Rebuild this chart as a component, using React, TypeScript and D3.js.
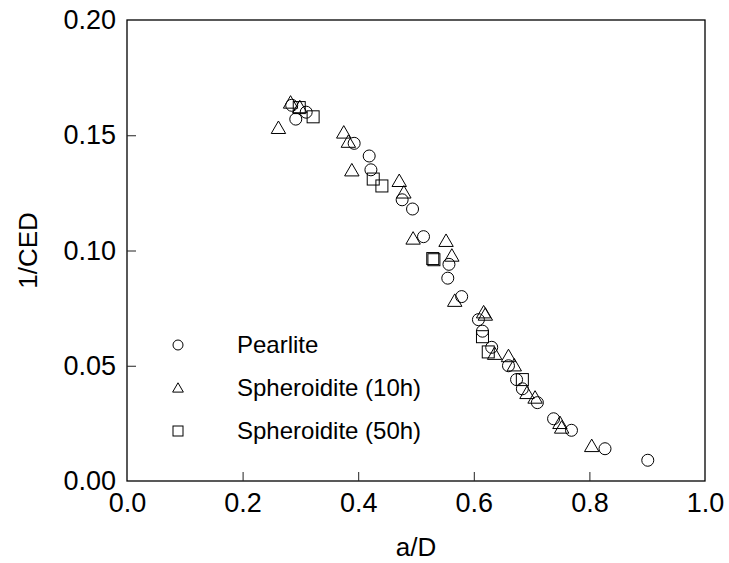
import React, { useEffect, useRef } from 'react';
import * as d3 from 'd3';

// a/D vs 1/CED
const pearlite: [number, number][] = [
  [0.285, 0.163], [0.310, 0.160], [0.292, 0.157], [0.393, 0.1465], [0.419, 0.141],
  [0.422, 0.135], [0.476, 0.122], [0.494, 0.118], [0.513, 0.106], [0.557, 0.094],
  [0.555, 0.088], [0.579, 0.080], [0.608, 0.070], [0.615, 0.065], [0.631, 0.058],
  [0.660, 0.050], [0.674, 0.044], [0.684, 0.040], [0.710, 0.034], [0.738, 0.027],
  [0.769, 0.022], [0.827, 0.014], [0.901, 0.009],
];

const spher10: [number, number][] = [
  [0.262, 0.153], [0.283, 0.164], [0.299, 0.162], [0.375, 0.151], [0.383, 0.147],
  [0.389, 0.1346], [0.471, 0.130], [0.479, 0.125], [0.495, 0.105], [0.552, 0.104],
  [0.562, 0.0976], [0.567, 0.078], [0.617, 0.073], [0.620, 0.072], [0.636, 0.055],
  [0.660, 0.054], [0.670, 0.050], [0.692, 0.038], [0.706, 0.036], [0.749, 0.025],
  [0.752, 0.023], [0.804, 0.015],
];

const spher50: [number, number][] = [
  [0.298, 0.162], [0.322, 0.158], [0.426, 0.131], [0.441, 0.128], [0.529, 0.0965],
  [0.531, 0.096], [0.615, 0.0626], [0.625, 0.056], [0.684, 0.044],
];

const xTicks = [0, 0.2, 0.4, 0.6, 0.8, 1.0];
const yTicks = [0, 0.05, 0.1, 0.15, 0.2];
const seriesNames = ['Pearlite', 'Spheroidite (10h)', 'Spheroidite (50h)'];

function App() {
  const svgRef = useRef<SVGSVGElement>(null);

  useEffect(() => {
    const svg = d3.select(svgRef.current);
    svg.selectAll('*').remove();

    const margin = { top: 20, right: 24, bottom: 82, left: 127 };
    const width = 729 - margin.left - margin.right;
    const height = 563 - margin.top - margin.bottom;
    const font = 'Liberation Sans, Arial, sans-serif';
    const tickFs = 27;
    const titleFs = 26;
    const legFs = 24;

    const g = svg.append('g').attr('transform', `translate(${margin.left},${margin.top})`);

    const x = d3.scaleLinear().domain([0, 1]).range([0, width]);
    const y = d3.scaleLinear().domain([0, 0.2]).range([height, 0]);

    // frame
    g.append('rect')
      .attr('width', width).attr('height', height)
      .attr('fill', 'none').attr('stroke', 'black').attr('stroke-width', 1.3);

    // inward ticks
    const xAxis = d3.axisBottom(x).tickValues(xTicks).tickSize(-9).tickPadding(12)
      .tickFormat(d3.format('.1f'));
    const gx = g.append('g').attr('transform', `translate(0,${height})`).call(xAxis);
    gx.select('.domain').remove();
    gx.selectAll('.tick line').attr('stroke', '#222');
    gx.selectAll('.tick').filter((d: any) => d === 0 || d === 1).select('line').remove();
    gx.selectAll('text').attr('font-family', font).attr('font-size', tickFs).attr('fill', 'black');

    const yAxis = d3.axisLeft(y).tickValues(yTicks).tickSize(-9).tickPadding(11)
      .tickFormat(d3.format('.2f'));
    const gy = g.append('g').call(yAxis);
    gy.select('.domain').remove();
    gy.selectAll('.tick line').attr('stroke', '#222');
    gy.selectAll('.tick').filter((d: any) => d === 0 || d === 0.2).select('line').remove();
    gy.selectAll('text').attr('font-family', font).attr('font-size', tickFs).attr('fill', 'black');

    // axis titles
    svg.append('text')
      .attr('x', margin.left + width / 2).attr('y', 556)
      .attr('text-anchor', 'middle')
      .attr('font-family', font).attr('font-size', titleFs).text('a/D');
    svg.append('text')
      .attr('transform', `translate(37,${margin.top + height / 2}) rotate(-90)`)
      .attr('text-anchor', 'middle')
      .attr('font-family', font).attr('font-size', titleFs).text('1/CED');

    const tri = d3.symbol().type(d3.symbolTriangle).size(90);

    g.selectAll('.p').data(pearlite).enter().append('circle')
      .attr('cx', d => x(d[0])).attr('cy', d => y(d[1])).attr('r', 6)
      .attr('fill', 'none').attr('stroke', 'black').attr('stroke-width', 1);

    g.selectAll('.t').data(spher10).enter().append('path')
      .attr('d', tri)
      .attr('transform', d => `translate(${x(d[0])},${y(d[1]) + 1})`)
      .attr('fill', 'none').attr('stroke', 'black').attr('stroke-width', 1);

    g.selectAll('.s').data(spher50).enter().append('rect')
      .attr('x', d => x(d[0]) - 6).attr('y', d => y(d[1]) - 6)
      .attr('width', 12).attr('height', 12)
      .attr('fill', 'none').attr('stroke', 'black').attr('stroke-width', 1);

    // legend
    const leg = svg.append('g');
    const rowY = [345, 388, 431];
    seriesNames.forEach((name, i) => {
      const cx = 178, cy = rowY[i];
      if (i === 0) {
        leg.append('circle').attr('cx', cx).attr('cy', cy).attr('r', 5)
          .attr('fill', 'none').attr('stroke', 'black');
      } else if (i === 1) {
        leg.append('path').attr('d', d3.symbol().type(d3.symbolTriangle).size(50))
          .attr('transform', `translate(${cx},${cy + 1})`)
          .attr('fill', 'none').attr('stroke', 'black');
      } else {
        leg.append('rect').attr('x', cx - 5).attr('y', cy - 5).attr('width', 10).attr('height', 10)
          .attr('fill', 'none').attr('stroke', 'black');
      }
      leg.append('text').attr('x', 237).attr('y', cy).attr('dy', '0.35em')
        .attr('font-family', font).attr('font-size', legFs).text(name);
    });
  }, []);

  return (
    <svg ref={svgRef} width={729} height={563}
      style={{ position: 'absolute', left: 0, top: 0, background: 'white' }} />
  );
}

export default App;
